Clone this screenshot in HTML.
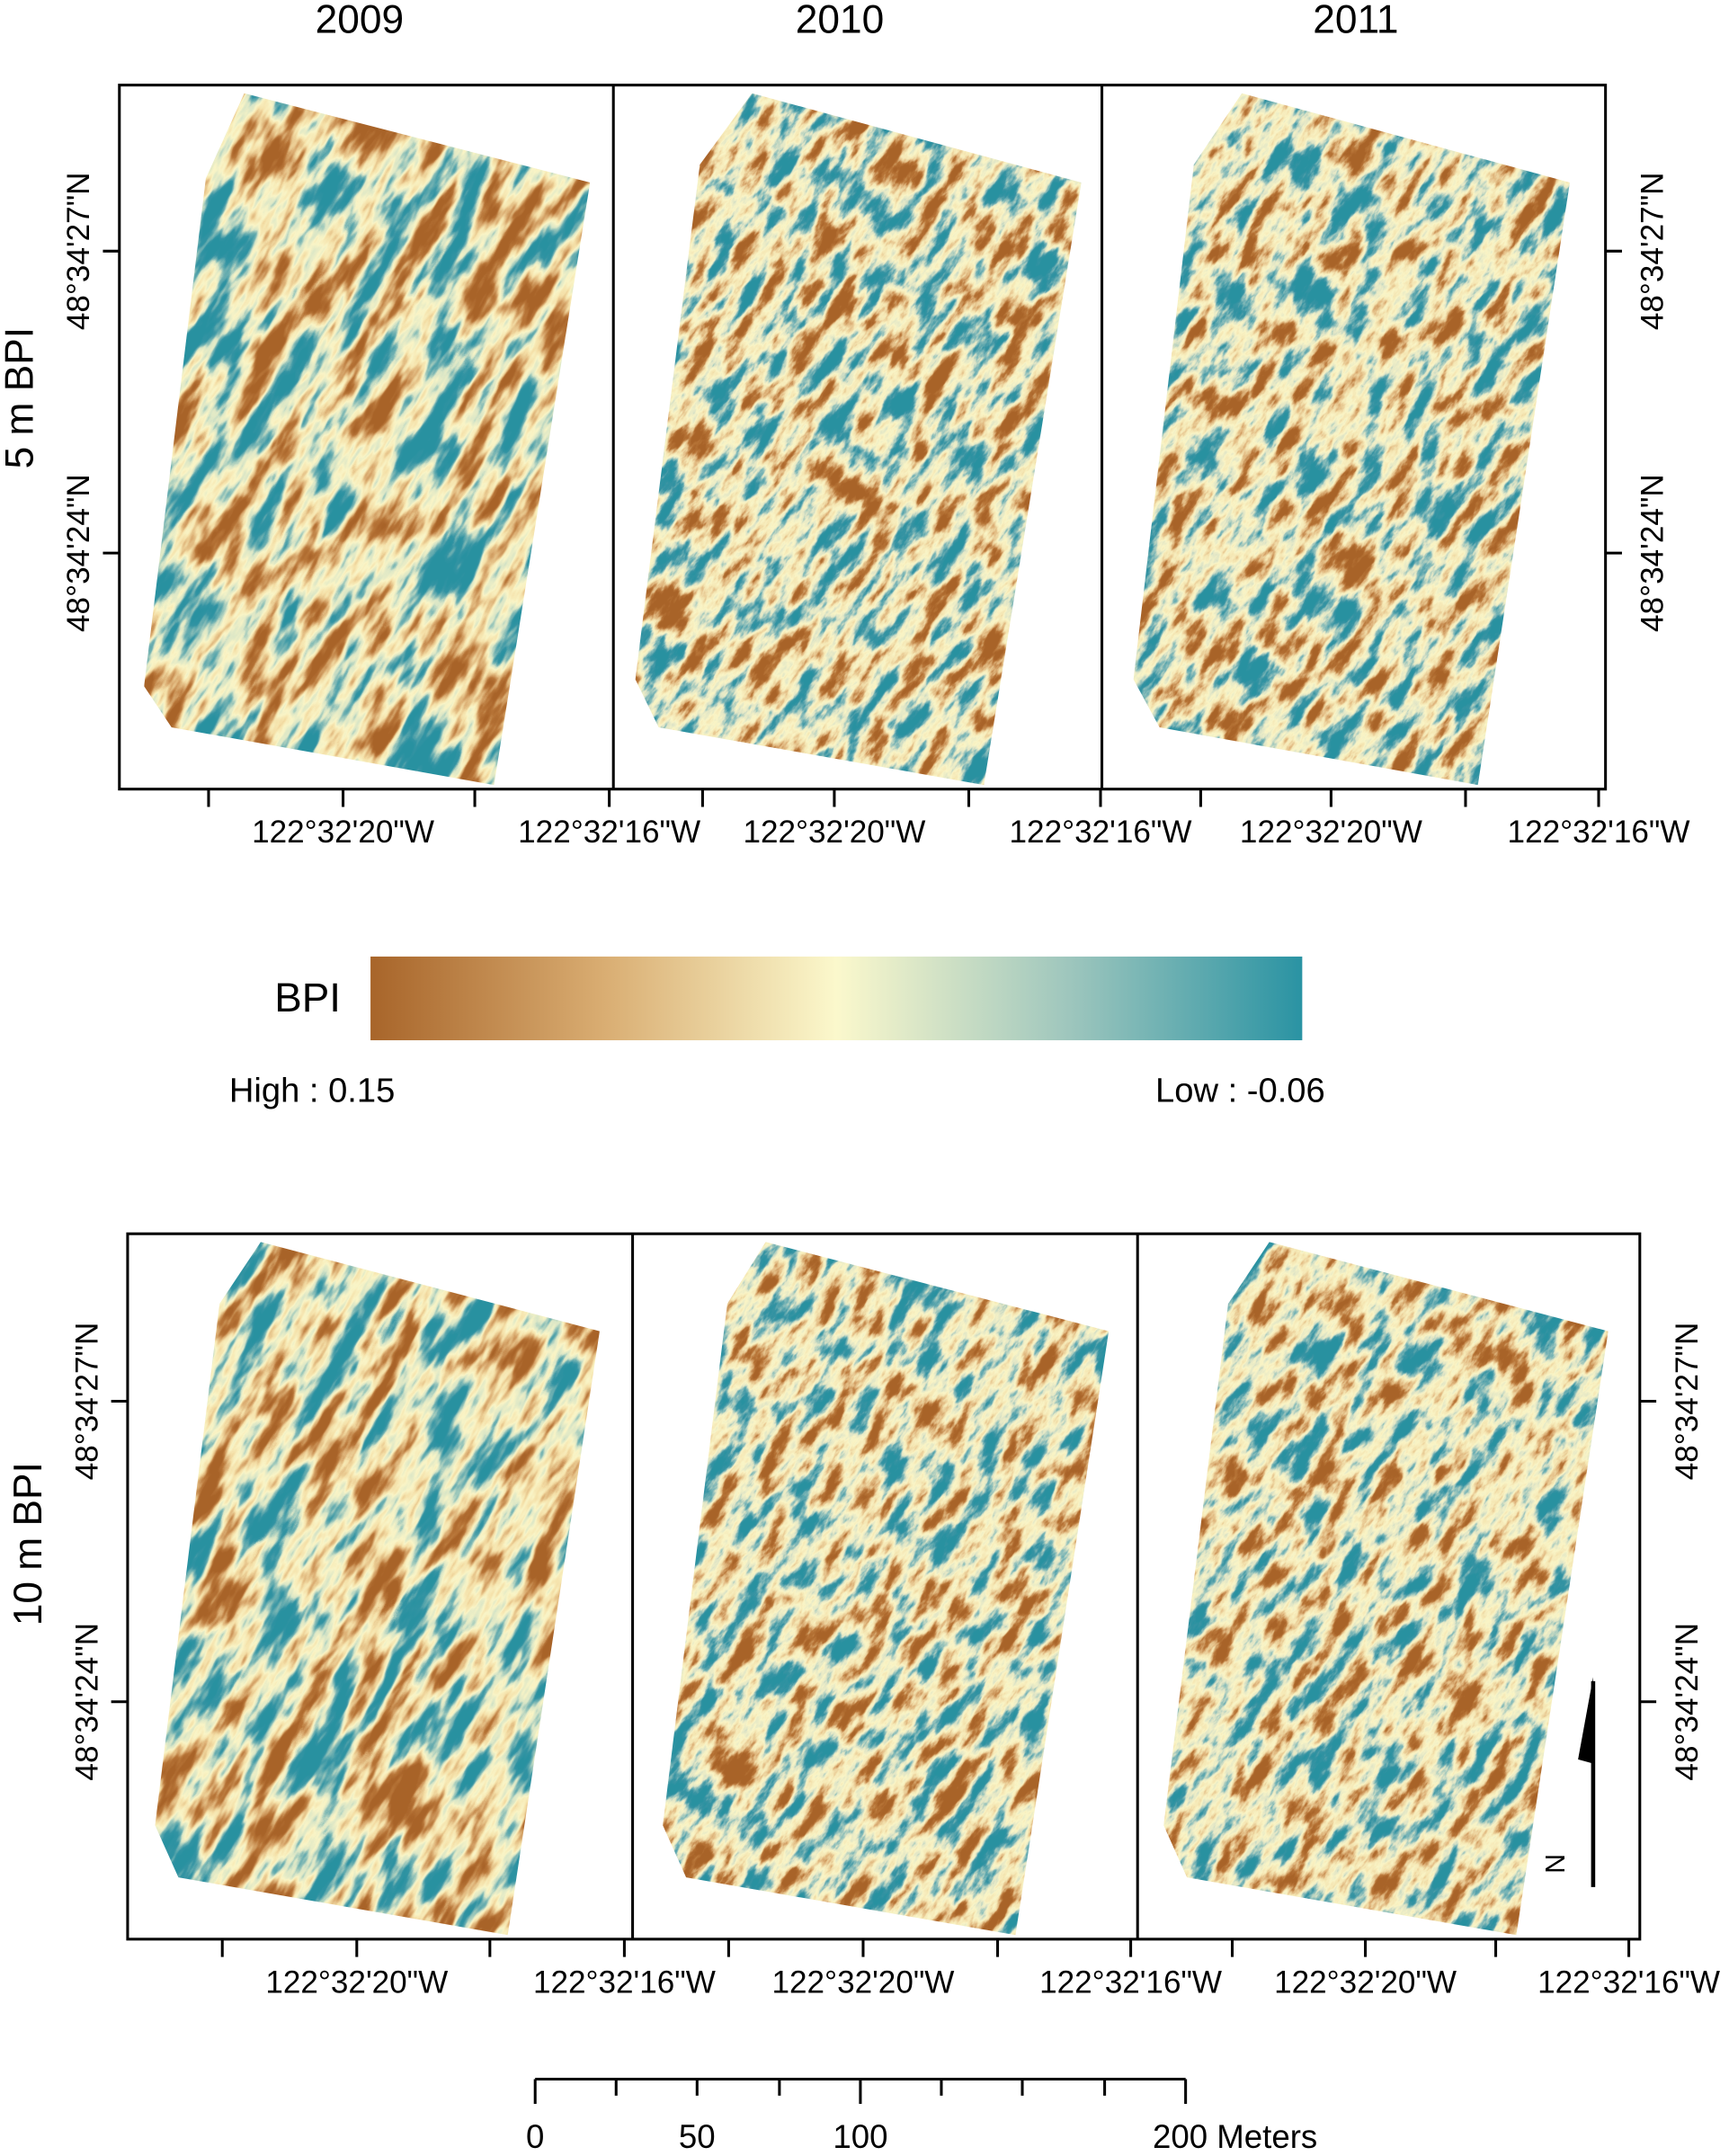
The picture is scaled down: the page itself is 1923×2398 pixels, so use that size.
<!DOCTYPE html>
<html><head><meta charset="utf-8"><style>
html,body{margin:0;padding:0;background:#fff;overflow:hidden;width:1923px;height:2398px;}
svg{display:block;}
text{font-family:"Liberation Sans",Arial,sans-serif;fill:#000;}
</style></head><body>
<svg width="1923" height="2398" viewBox="0 0 1260 1571" preserveAspectRatio="none" xmlns="http://www.w3.org/2000/svg">
<defs>
<linearGradient id="cb" x1="0" x2="1" y1="0" y2="0">
<stop offset="0" stop-color="#a8652a"/>
<stop offset="0.25" stop-color="#d9ad72"/>
<stop offset="0.5" stop-color="#fbf8cc"/>
<stop offset="0.75" stop-color="#9ec6bd"/>
<stop offset="1" stop-color="#2a93a3"/>
</linearGradient>
<filter id="fa" x="-600" y="-600" width="2400" height="2400" filterUnits="userSpaceOnUse" color-interpolation-filters="sRGB">
<feTurbulence type="fractalNoise" baseFrequency="0.016 0.055" numOctaves="4" seed="3"/>
<feColorMatrix type="matrix" values="1 0 0 0 0  1 0 0 0 0  1 0 0 0 0  0 0 0 0 1"/>
<feComponentTransfer>
<feFuncR type="linear" slope="2.3" intercept="-0.65"/>
<feFuncG type="linear" slope="2.3" intercept="-0.65"/>
<feFuncB type="linear" slope="2.3" intercept="-0.65"/>
</feComponentTransfer>
<feComponentTransfer>
<feFuncR type="table" tableValues="0.66 0.72 0.86 0.96 0.98 0.85 0.45 0.2 0.16"/>
<feFuncG type="table" tableValues="0.39 0.46 0.68 0.88 0.96 0.9 0.7 0.58 0.57"/>
<feFuncB type="table" tableValues="0.16 0.22 0.45 0.66 0.78 0.78 0.7 0.64 0.63"/>
</feComponentTransfer>
</filter>
<filter id="fb" x="-600" y="-600" width="2400" height="2400" filterUnits="userSpaceOnUse" color-interpolation-filters="sRGB">
<feTurbulence type="fractalNoise" baseFrequency="0.028 0.065" numOctaves="5" seed="11"/>
<feColorMatrix type="matrix" values="1 0 0 0 0  1 0 0 0 0  1 0 0 0 0  0 0 0 0 1"/>
<feComponentTransfer>
<feFuncR type="linear" slope="2.1" intercept="-0.55"/>
<feFuncG type="linear" slope="2.1" intercept="-0.55"/>
<feFuncB type="linear" slope="2.1" intercept="-0.55"/>
</feComponentTransfer>
<feComponentTransfer>
<feFuncR type="table" tableValues="0.66 0.72 0.88 0.96 0.98 0.88 0.5 0.22 0.16"/>
<feFuncG type="table" tableValues="0.39 0.46 0.72 0.9 0.96 0.9 0.72 0.58 0.57"/>
<feFuncB type="table" tableValues="0.16 0.22 0.5 0.7 0.78 0.78 0.72 0.64 0.63"/>
</feComponentTransfer>
</filter>
<clipPath id="p1"><polygon points="178,68 430,133 360,572 125,530 105,500 150,130"/></clipPath>
<clipPath id="p2"><polygon points="548,68 788,133 717,572 480,530 463,495 510,120"/></clipPath>
<clipPath id="p3"><polygon points="905,68 1144,133 1077,572 845,530 826,495 870,120"/></clipPath>
<clipPath id="q1"><polygon points="190,905 437,970 370,1410 130,1368 113,1330 160,950"/></clipPath>
<clipPath id="q2"><polygon points="558,905 808,970 740,1410 500,1368 483,1330 530,950"/></clipPath>
<clipPath id="q3"><polygon points="925,905 1172,970 1105,1410 865,1368 848,1330 895,950"/></clipPath>
</defs>

<text x="262" y="24" font-size="29" text-anchor="middle">2009</text>
<text x="612" y="24" font-size="29" text-anchor="middle">2010</text>
<text x="988" y="24" font-size="29" text-anchor="middle">2011</text>

<g clip-path="url(#p1)"><g transform="rotate(-60 270 320)"><rect x="-300" y="-300" width="1200" height="1200" filter="url(#fa)"/></g></g>
<g clip-path="url(#p2)"><g transform="rotate(-55 625 320)"><rect x="50" y="-300" width="1200" height="1200" filter="url(#fb)"/></g></g>
<g clip-path="url(#p3)"><g transform="rotate(-55 985 320)"><rect x="400" y="-300" width="1200" height="1200" filter="url(#fb)"/></g></g>

<g fill="none" stroke="#000" stroke-width="2">
<rect x="87" y="62" width="1083" height="513"/>
<line x1="447" y1="62" x2="447" y2="575"/>
<line x1="803" y1="62" x2="803" y2="575"/>
<path d="M152 575v13M250 575v13M346 575v13M444 575v13M512 575v13M608 575v13M706 575v13M802 575v13M875 575v13M970 575v13M1068 575v13M1165 575v13"/>
<path d="M87 183h-12M87 403h-12M1170 183h12M1170 403h12"/>
</g>
<g font-size="23" text-anchor="middle">
<text x="250" y="614">122°32'20"W</text><text x="444" y="614">122°32'16"W</text>
<text x="608" y="614">122°32'20"W</text><text x="802" y="614">122°32'16"W</text>
<text x="970" y="614">122°32'20"W</text><text x="1165" y="614">122°32'16"W</text>
<text transform="translate(65,183) rotate(-90)">48°34'27"N</text>
<text transform="translate(65,403) rotate(-90)">48°34'24"N</text>
<text transform="translate(1212,183) rotate(-90)">48°34'27"N</text>
<text transform="translate(1212,403) rotate(-90)">48°34'24"N</text>
</g>
<text transform="translate(24,290) rotate(-90)" font-size="29" text-anchor="middle">5 m BPI</text>

<text x="200" y="737" font-size="30">BPI</text>
<rect x="270" y="697" width="679" height="61" fill="url(#cb)"/>
<text x="167" y="803" font-size="25">High : 0.15</text>
<text x="842" y="803" font-size="25">Low : -0.06</text>

<g clip-path="url(#q1)"><g transform="rotate(-60 280 1160)"><rect x="-300" y="560" width="1200" height="1200" filter="url(#fa)"/></g></g>
<g clip-path="url(#q2)"><g transform="rotate(-55 645 1160)"><rect x="60" y="560" width="1200" height="1200" filter="url(#fb)"/></g></g>
<g clip-path="url(#q3)"><g transform="rotate(-55 1010 1160)"><rect x="420" y="560" width="1200" height="1200" filter="url(#fb)"/></g></g>

<g fill="none" stroke="#000" stroke-width="2">
<rect x="93" y="899" width="1102" height="514"/>
<line x1="461" y1="899" x2="461" y2="1413"/>
<line x1="829" y1="899" x2="829" y2="1413"/>
<path d="M162 1413v13M260 1413v13M357 1413v13M455 1413v13M531 1413v13M629 1413v13M727 1413v13M824 1413v13M898 1413v13M995 1413v13M1090 1413v13M1187 1413v13"/>
<path d="M93 1021h-12M93 1240h-12M1195 1021h12M1195 1240h12"/>
</g>
<g font-size="23" text-anchor="middle">
<text x="260" y="1452">122°32'20"W</text><text x="455" y="1452">122°32'16"W</text>
<text x="629" y="1452">122°32'20"W</text><text x="824" y="1452">122°32'16"W</text>
<text x="995" y="1452">122°32'20"W</text><text x="1187" y="1452">122°32'16"W</text>
<text transform="translate(71,1021) rotate(-90)">48°34'27"N</text>
<text transform="translate(71,1240) rotate(-90)">48°34'24"N</text>
<text transform="translate(1237,1021) rotate(-90)">48°34'27"N</text>
<text transform="translate(1237,1240) rotate(-90)">48°34'24"N</text>
</g>
<text transform="translate(30,1125) rotate(-90)" font-size="29" text-anchor="middle">10 m BPI</text>

<line x1="1161" y1="1225" x2="1161" y2="1375" stroke="#000" stroke-width="3"/>
<polygon points="1161,1222 1161,1285 1150,1282" fill="#000"/>
<text transform="translate(1140,1358) rotate(-90)" font-size="20" text-anchor="middle">N</text>

<g fill="none" stroke="#000" stroke-width="2">
<path d="M390 1515h474M390 1515v18M449 1515v12M508 1515v12M568 1515v12M627 1515v18M686 1515v12M745 1515v12M805 1515v12M864 1515v18"/>
</g>
<g font-size="24">
<text x="390" y="1565" text-anchor="middle">0</text>
<text x="508" y="1565" text-anchor="middle">50</text>
<text x="627" y="1565" text-anchor="middle">100</text>
<text x="840" y="1565">200 Meters</text>
</g>
</svg>
</body></html>
